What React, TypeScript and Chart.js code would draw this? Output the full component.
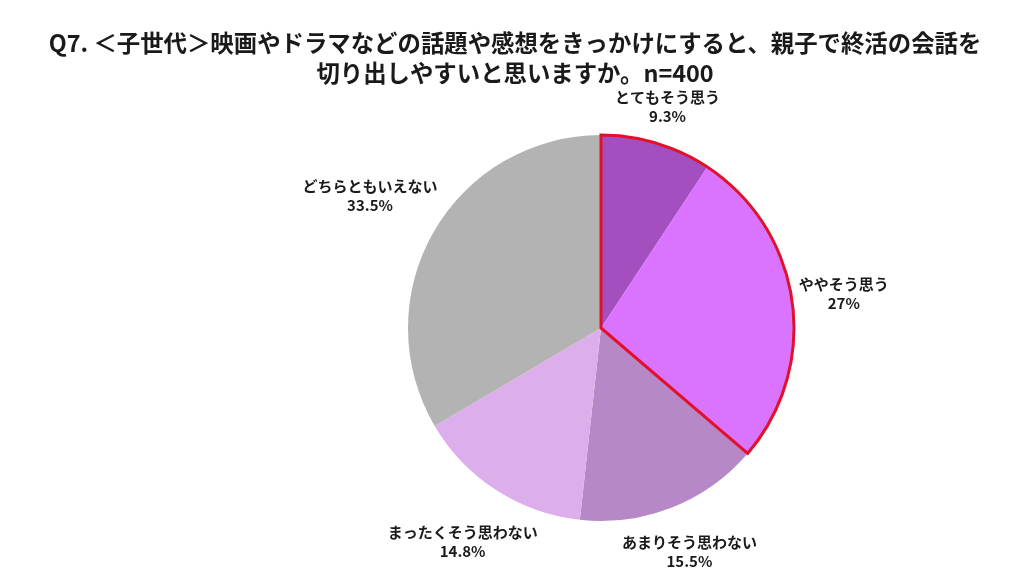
import React, { useEffect, useRef } from "react";
import { Chart, registerables } from "chart.js";

Chart.register(...registerables);

const titleLines = [
  "Q7. ＜子世代＞映画やドラマなどの話題や感想をきっかけにすると、親子で終活の会話を",
  "切り出しやすいと思いますか。n=400",
];
const categories = ["とてもそう思う", "ややそう思う", "あまりそう思わない", "まったくそう思わない", "どちらともいえない"];
const values = [9.3, 27, 15.5, 14.8, 33.5];
const valueLabels = ["9.3%", "27%", "15.5%", "14.8%", "33.5%"];
const colors = ["#a44fbf", "#da74ff", "#b788c8", "#dcaeeb", "#b3b3b3"];
const highlighted = [0, 1];

const FONT = '"Noto Sans CJK JP", "Noto Sans", sans-serif';

export default function App() {
  const ref = useRef<HTMLCanvasElement | null>(null);
  useEffect(() => {
    if (!ref.current) return;
    const overlay = {
      id: "overlay",
      afterDatasetsDraw(chart: any) {
        const ctx = chart.ctx;
        const meta = chart.getDatasetMeta(0);
        const arcs = meta.data;
        const first = arcs[highlighted[0]];
        const last = arcs[highlighted[highlighted.length - 1]];
        ctx.save();
        ctx.beginPath();
        ctx.moveTo(first.x, first.y);
        ctx.arc(first.x, first.y, first.outerRadius, first.startAngle, last.endAngle);
        ctx.closePath();
        ctx.strokeStyle = "#e3102b";
        ctx.lineWidth = 3;
        ctx.lineJoin = "miter";
        ctx.stroke();
        ctx.restore();

        ctx.save();
        ctx.font = `bold 15px ${FONT}`;
        ctx.fillStyle = "#1a1a1a";
        ctx.textAlign = "center";
        ctx.textBaseline = "middle";
        const lh = 19;
        arcs.forEach((a: any, i: number) => {
          const mid = (a.startAngle + a.endAngle) / 2;
          const dx = Math.cos(mid);
          const dy = Math.sin(mid);
          const w = Math.max(ctx.measureText(categories[i]).width, ctx.measureText(valueLabels[i]).width);
          const h = lh * 2;
          const off = a.outerRadius + 5 + Math.abs(dx) * w / 2 + Math.abs(dy) * h / 2;
          const cx = a.x + dx * off;
          const cy = a.y + dy * off;
          ctx.fillText(categories[i], cx, cy - lh / 2);
          ctx.fillText(valueLabels[i], cx, cy + lh / 2);
        });
        ctx.restore();

        ctx.save();
        ctx.font = `bold 23.4px ${FONT}`;
        ctx.fillStyle = "#1a1a1a";
        ctx.textAlign = "center";
        ctx.textBaseline = "middle";
        titleLines.forEach((t, i) => ctx.fillText(t, 515, 43 + i * 30));
        ctx.restore();
      },
    };
    const chart = new Chart(ref.current, {
      type: "pie",
      data: {
        labels: categories,
        datasets: [
          {
            data: values,
            backgroundColor: colors,
            borderWidth: 0,
          },
        ],
      },
      options: {
        animation: false,
        responsive: false,
        layout: { padding: { top: 135, bottom: 58, left: 408, right: 236 } },
        plugins: {
          legend: { display: false },
          title: { display: false },
          tooltip: { enabled: false },
        },
      },
      plugins: [overlay],
    });
    return () => chart.destroy();
  }, []);
  return (
    <div style={{ position: "fixed", left: 0, top: 0, width: 1030, height: 579, background: "#fff" }}>
      <canvas ref={ref} width={1030} height={579} style={{ width: 1030, height: 579 }} />
    </div>
  );
}
